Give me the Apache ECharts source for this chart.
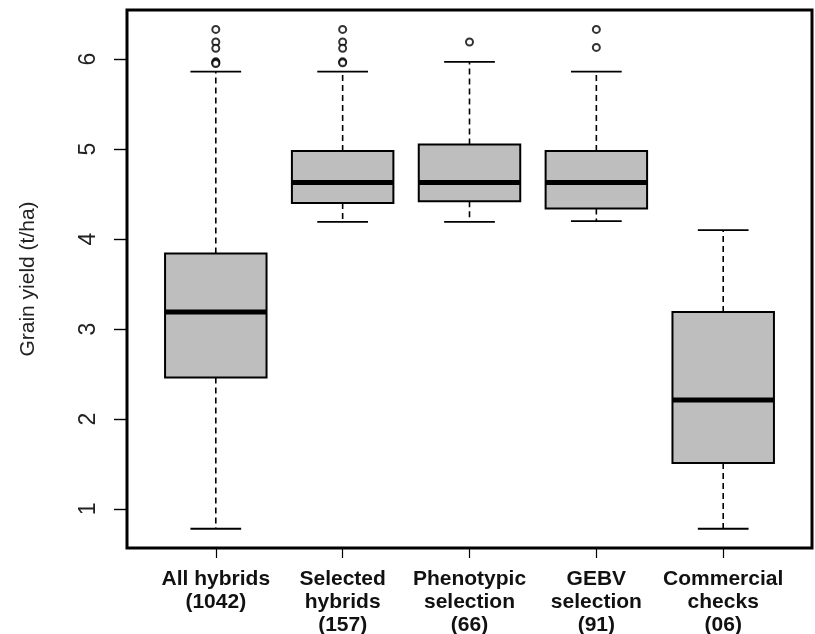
<!DOCTYPE html>
<html>
<head>
<meta charset="utf-8">
<script src="https://cdn.jsdelivr.net/npm/echarts@6/dist/echarts.min.js"></script>
<style>
  html, body { margin: 0; padding: 0; background: #fff; }
  #chart { width: 815px; height: 634px; }
</style>
</head>
<body>
<div id="chart"></div>
<script>
// Grain yield (t/ha) of hybrid groups: five-number summaries and outliers
const groups = [
  'All hybrids\n(1042)',
  'Selected\nhybrids\n(157)',
  'Phenotypic\nselection\n(66)',
  'GEBV\nselection\n(91)',
  'Commercial\nchecks\n(06)'
];
const lowerWhisker = [0.78, 4.19, 4.19, 4.20, 0.78];
const lowerQuartile = [2.46, 4.40, 4.42, 4.34, 1.51];
const medians = [3.19, 4.63, 4.63, 4.63, 2.21];
const upperQuartile = [3.84, 4.98, 5.05, 4.98, 3.19];
const upperWhisker = [5.86, 5.86, 5.97, 5.86, 4.10];
const outliers = [
  [6.33, 6.19, 6.12, 5.97, 5.96, 5.95],
  [6.33, 6.19, 6.12, 5.97, 5.96],
  [6.19],
  [6.33, 6.13],
  []
];
const yTicks = [1, 2, 3, 4, 5, 6];
const yTitle = 'Grain yield (t/ha)';

const positions = groups.map((_, i) => i + 1);
const boxData = positions.map((p, i) => [
  p, lowerWhisker[i], lowerQuartile[i], medians[i], upperQuartile[i], upperWhisker[i]
]);
const outlierData = [];
outliers.forEach((list, i) => list.forEach(v => outlierData.push([positions[i], v])));

const BOX_WIDTH = 0.8;
const CAP_WIDTH = 0.4;

function renderBox(params, api) {
  const x = api.value(0);
  const lo = api.coord([x, api.value(1)]);
  const q1 = api.coord([x, api.value(2)]);
  const md = api.coord([x, api.value(3)]);
  const q3 = api.coord([x, api.value(4)]);
  const hi = api.coord([x, api.value(5)]);
  const bw = api.size([BOX_WIDTH, 0])[0];
  const cw = api.size([CAP_WIDTH, 0])[0];
  const cx = lo[0];
  const dashed = { stroke: '#000', lineWidth: 1.6, lineDash: [6, 4] };
  const solid = { stroke: '#000', lineWidth: 1.8 };
  return {
    type: 'group',
    children: [
      { type: 'line', shape: { x1: cx, y1: q3[1], x2: cx, y2: hi[1] }, style: dashed },
      { type: 'line', shape: { x1: cx, y1: q1[1], x2: cx, y2: lo[1] }, style: dashed },
      { type: 'line', shape: { x1: cx - cw / 2, y1: hi[1], x2: cx + cw / 2, y2: hi[1] }, style: solid },
      { type: 'line', shape: { x1: cx - cw / 2, y1: lo[1], x2: cx + cw / 2, y2: lo[1] }, style: solid },
      {
        type: 'rect',
        shape: { x: cx - bw / 2, y: q3[1], width: bw, height: q1[1] - q3[1] },
        style: { fill: '#bebebe', stroke: '#000', lineWidth: 2 }
      },
      { type: 'line', shape: { x1: cx - bw / 2, y1: md[1], x2: cx + bw / 2, y2: md[1] }, style: { stroke: '#000', lineWidth: 5 } }
    ]
  };
}

const chart = echarts.init(document.getElementById('chart'), null, { renderer: 'canvas' });
chart.setOption({
  animation: false,
  backgroundColor: '#fff',
  grid: {
    left: 127, right: 3, top: 10, bottom: 86,
    outerBoundsMode: 'none',
    containLabel: false,
    show: true, borderColor: '#000', borderWidth: 3, backgroundColor: 'transparent'
  },
  xAxis: {
    type: 'value',
    min: 0.3, max: 5.7,
    axisLine: { show: false },
    splitLine: { show: false },
    axisTick: { show: true, customValues: positions, length: 10, inside: false, lineStyle: { color: '#000', width: 1.2 } },
    axisLabel: {
      customValues: positions,
      formatter: v => groups[Math.round(v) - 1] || '',
      fontFamily: 'Liberation Sans, Arial, sans-serif',
      fontWeight: 'bold', fontSize: 21, lineHeight: 23, color: '#111',
      margin: 20, verticalAlign: 'top'
    }
  },
  yAxis: {
    type: 'value',
    min: 0.566, max: 6.546,
    name: yTitle,
    nameLocation: 'middle',
    nameGap: 88,
    nameRotate: 90,
    nameTextStyle: { fontFamily: 'Liberation Sans, Arial, sans-serif', fontSize: 21, color: '#222' },
    axisLine: { show: false },
    splitLine: { show: false },
    axisTick: { show: true, customValues: yTicks, length: 13, lineStyle: { color: '#000', width: 1.4 } },
    axisLabel: {
      customValues: yTicks,
      rotate: 90,
      fontFamily: 'Liberation Sans, Arial, sans-serif',
      fontSize: 23, color: '#222', margin: 27
    }
  },
  series: [
    {
      type: 'custom',
      renderItem: renderBox,
      data: boxData,
      encode: { x: 0, y: [1, 2, 3, 4, 5] },
      clip: false
    },
    {
      type: 'scatter',
      data: outlierData,
      symbol: 'emptyCircle',
      symbolSize: 7,
      itemStyle: { color: '#000', borderColor: '#000', borderWidth: 2 }
    }
  ]
});
</script>
</body>
</html>
